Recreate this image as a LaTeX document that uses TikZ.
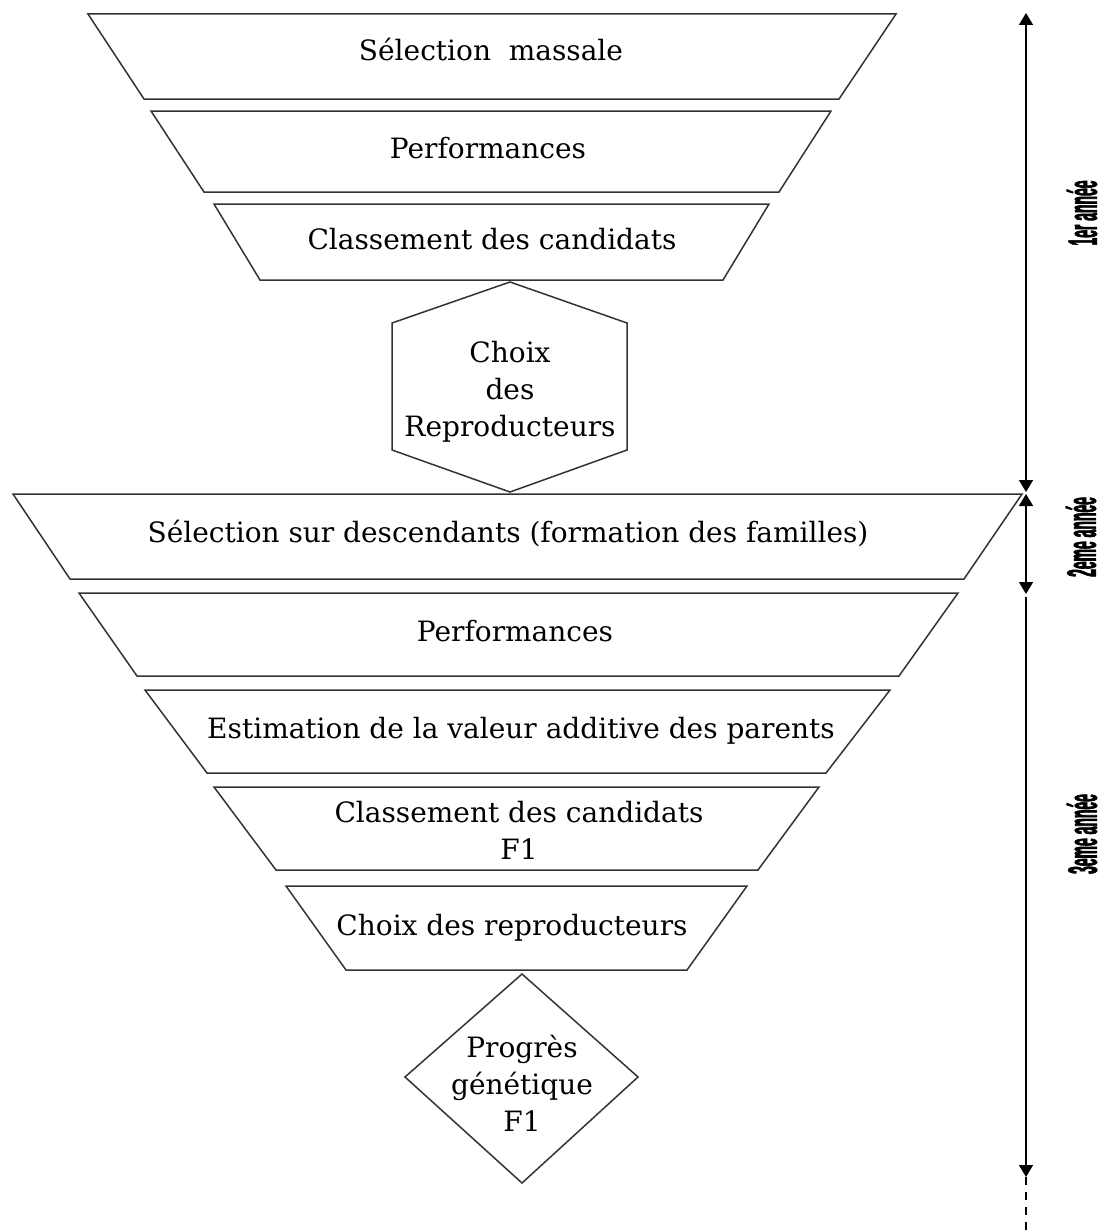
\documentclass[tikz,border=0pt]{standalone}
\usepackage{fontspec}
\newfontfamily\labfont[FakeStretch=0.34,FakeBold=1.5]{Liberation Sans}
\newfontfamily\boxfont{DejaVu Serif}
\usetikzlibrary{arrows.meta}
\begin{document}
\begin{tikzpicture}[x=1pt,y=-1pt,
  shp/.style={draw=black!80,line width=1.5pt,line join=miter},
  txt/.style={font=\boxfont\fontsize{28}{37}\selectfont,inner sep=0pt,align=center},
  bl/.style={txt,anchor=base},
  yrarrow/.style={line width=1.6pt,{Triangle[width=14pt,length=12pt]}-{Triangle[width=14pt,length=12pt]}},
  downarrow/.style={line width=1.6pt,-{Triangle[width=14pt,length=12pt]}},
  yrlabel/.style={rotate=90,inner sep=0pt,font=\labfont\bfseries\fontsize{41}{41}\selectfont}
]
\useasboundingbox (0,0) rectangle (1104,1231);
% inverted trapezoids
\draw[shp] (88,14) -- (896,14) -- (839,99) -- (144,99) -- cycle;
\draw[shp] (151,111) -- (831,111) -- (779,192) -- (204,192) -- cycle;
\draw[shp] (214,204) -- (769,204) -- (723,280) -- (260,280) -- cycle;
\draw[shp] (510,282) -- (627,323) -- (627,450) -- (510,492) -- (392,450) -- (392,323) -- cycle;
\draw[shp] (13,494) -- (1022,494) -- (964,579) -- (70,579) -- cycle;
\draw[shp] (79,593) -- (958,593) -- (899,676) -- (137,676) -- cycle;
\draw[shp] (145,690) -- (890,690) -- (826,773) -- (207,773) -- cycle;
\draw[shp] (214,787) -- (819,787) -- (758,870) -- (276,870) -- cycle;
\draw[shp] (286,886) -- (747,886) -- (687,970) -- (346,970) -- cycle;
\draw[shp] (522,974) -- (638,1077) -- (522,1183) -- (405,1077) -- cycle;
% texts
\node[bl] (t1) at (491,61) {Sélection~~massale};
\node[bl] (t2) at (488,158) {Performances};
\node[bl] (t3) at (492,249) {Classement des candidats};
\node[txt] (hx) at (510,392) {Choix\\des\\Reproducteurs};
\node[bl] (t4) at (508,542) {Sélection sur descendants (formation des familles)};
\node[bl] (t5) at (515,641) {Performances};
\node[bl] (t6) at (521,738) {Estimation de la valeur additive des parents};
\node[txt] (t7) at (519,830) {Classement des candidats\\F1};
\node[bl] (t8) at (512,935) {Choix des reproducteurs};
\node[txt] (dm) at (522,1083) {Progrès\\génétique\\F1};
% year arrows
\coordinate (a0) at (1026,13);
\coordinate (a1) at (1026,492);
\coordinate (a2) at (1026,494);
\coordinate (a3) at (1026,594);
\coordinate (a4) at (1026,597);
\coordinate (a5) at (1026,1177);
\coordinate (a6) at (1026,1231);
\draw[yrarrow] (a0) -- (a1);
\draw[yrarrow] (a2) -- (a3);
\draw[downarrow] (a4) -- (a5);
\draw[line width=1.6pt,dash pattern=on 8pt off 7pt] (a5) -- (a6);
\node[yrlabel] (y1) at (1082,213) {1er année};
\node[yrlabel] (y2) at (1081,537) {2eme année};
\node[yrlabel] (y3) at (1082,834) {3eme année};
\end{tikzpicture}
\end{document}
